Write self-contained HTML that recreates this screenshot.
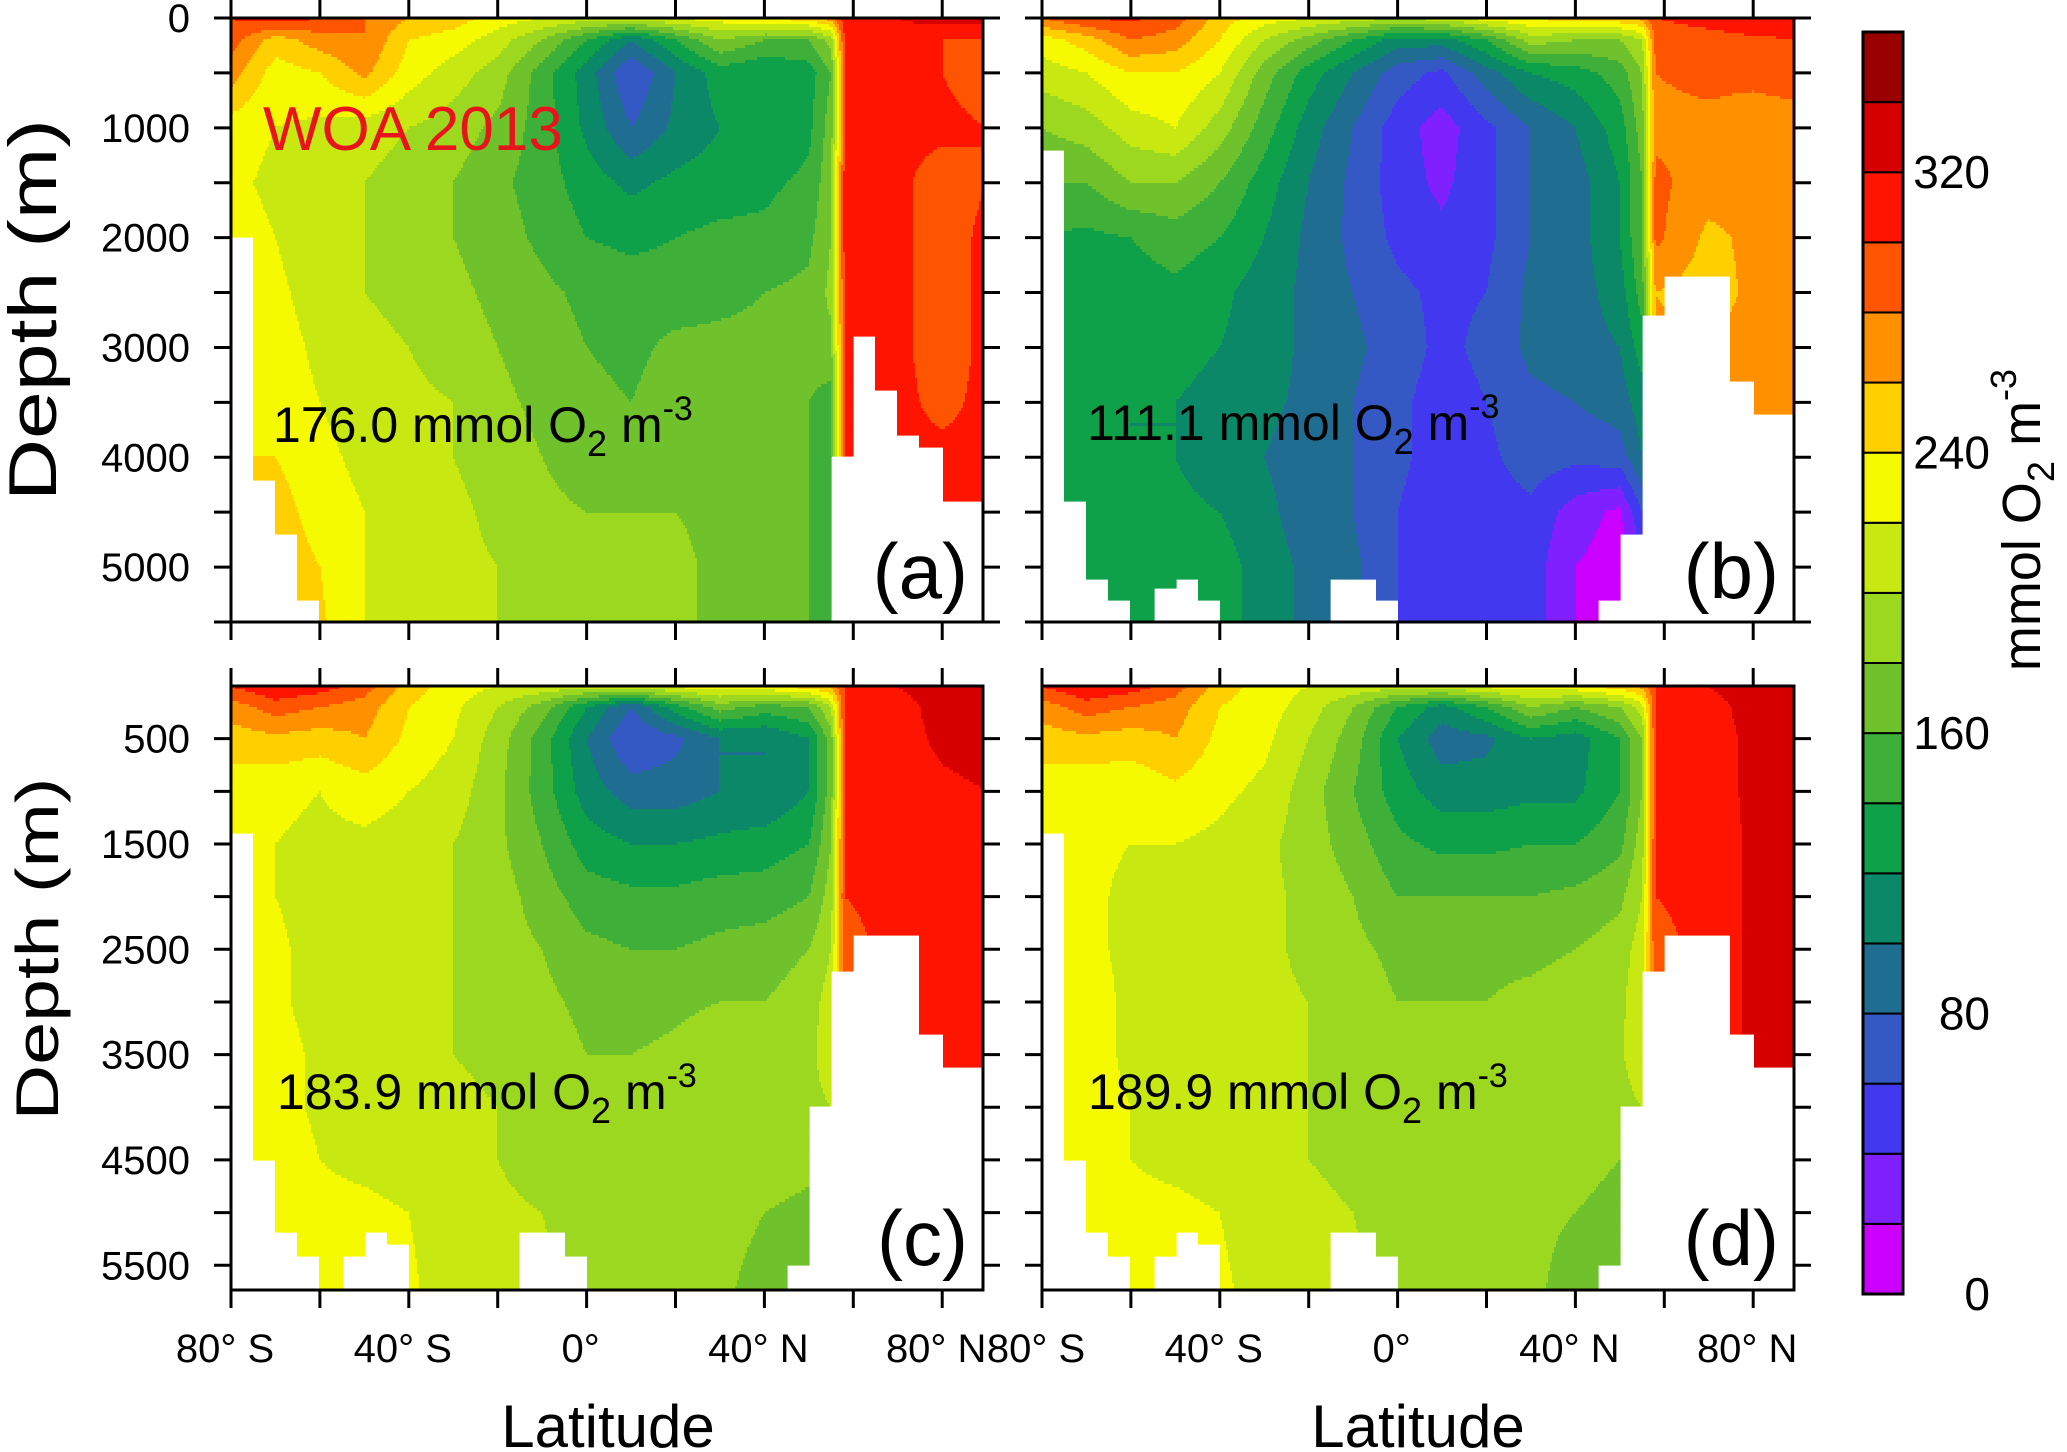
<!DOCTYPE html>
<html><head><meta charset="utf-8"><style>
html,body{margin:0;padding:0;background:#fff;}
svg{display:block;font-family:"Liberation Sans",sans-serif;}
</style></head><body>
<svg id="fig" width="2067" height="1452" viewBox="0 0 2067 1452" xmlns="http://www.w3.org/2000/svg">
<g id="fills"></g>
<g id="axes"></g>
<g>
<text x="263" y="150" font-size="62" fill="#e8141c">WOA 2013</text>
<text x="273" y="442" font-size="50" fill="#000">176.0 mmol O<tspan dy="14" font-size="36">2</tspan><tspan dy="-14"> m</tspan><tspan dy="-22" font-size="34">-3</tspan></text>
<text x="1087" y="440" font-size="50" fill="#000">111.1 mmol O<tspan dy="14" font-size="36">2</tspan><tspan dy="-14"> m</tspan><tspan dy="-22" font-size="34">-3</tspan></text>
<text x="277" y="1109" font-size="50" fill="#000">183.9 mmol O<tspan dy="14" font-size="36">2</tspan><tspan dy="-14"> m</tspan><tspan dy="-22" font-size="34">-3</tspan></text>
<text x="1088" y="1109" font-size="50" fill="#000">189.9 mmol O<tspan dy="14" font-size="36">2</tspan><tspan dy="-14"> m</tspan><tspan dy="-22" font-size="34">-3</tspan></text>
<text x="968" y="598" font-size="78" text-anchor="end">(a)</text>
<text x="1779" y="598" font-size="78" text-anchor="end">(b)</text>
<text x="968" y="1265" font-size="78" text-anchor="end">(c)</text>
<text x="1779" y="1265" font-size="78" text-anchor="end">(d)</text>
<text transform="translate(56,310) rotate(-90)" font-size="68" text-anchor="middle" textLength="382" lengthAdjust="spacingAndGlyphs">Depth (m)</text>
<text transform="translate(58,949) rotate(-90)" font-size="60" text-anchor="middle" textLength="343" lengthAdjust="spacingAndGlyphs">Depth (m)</text>
<text x="608" y="1447" font-size="60" text-anchor="middle">Latitude</text>
<text x="1418" y="1447" font-size="60" text-anchor="middle">Latitude</text>
<text transform="translate(2040,520) rotate(-90)" font-size="54" text-anchor="middle">mmol O<tspan dy="14" font-size="38">2</tspan><tspan dy="-14"> m</tspan><tspan dy="-24" font-size="36">-3</tspan></text>
</g>
<g id="cbar"></g>
</svg>
<script>
const NS = "http://www.w3.org/2000/svg";
const palette = ['#cc00ff','#8020ff','#4238f0','#3458c4','#1f6e92','#0a8868','#0fa04a','#3eb03a','#70c22c','#9dd820','#c8e812','#f5fa00','#ffcf00','#ff9100','#ff5500','#ff1400','#d60000','#990000'];
const colorbarTicks = [0, 80, 160, 240, 320];
const latNodes = [-80,-70,-60,-50,-40,-30,-20,-10,0,10,20,30,40,50,55,58,70,80,90];
const depthNodes = [0,200,500,1000,1500,2000,2500,3000,3500,4000,4500,5000,5750];
const xTickLabels = ['80° S','40° S','0°','40° N','80° N'];
const xTickLabelLats = [-80,-40,0,40,80];

const valuesA = [
[300,310,300,280,260,250,230,220,210,210,220,230,240,250,270,310,320,330,330],
[290,250,270,280,240,230,210,180,140,100,140,180,160,160,190,300,310,300,300],
[270,230,240,265,230,210,190,150,110,60,100,130,120,130,160,300,310,300,290],
[230,220,215,210,200,190,175,150,115,80,105,120,120,135,170,300,305,305,300],
[225,215,205,200,190,180,165,150,130,115,125,130,135,145,175,305,305,290,300],
[230,220,205,200,190,180,170,155,140,135,140,145,145,155,180,305,305,290,305],
[235,225,210,200,195,185,175,165,155,150,150,155,160,165,185,300,305,290,305],
[240,230,215,205,200,190,180,170,160,155,165,165,165,170,175,300,305,290,305],
[240,232,220,210,205,200,185,175,165,160,170,165,170,160,150,300,305,295,305],
[240,240,225,215,210,200,190,180,170,165,175,175,170,160,150,300,305,305,305],
[250,250,230,220,210,205,195,185,180,180,180,175,170,160,150,300,300,305,305],
[260,255,240,220,210,205,200,195,190,185,185,175,170,160,150,300,300,300,300],
[260,260,245,220,210,205,200,195,190,185,185,175,170,160,150,300,300,300,300]];
const valuesB = [
[280,300,305,290,250,230,220,210,200,210,230,240,250,255,265,300,310,320,320],
[230,250,280,270,240,200,170,140,110,110,140,190,180,180,200,285,290,295,300],
[210,220,240,240,220,170,130,100,70,55,90,120,130,150,180,280,285,285,290],
[180,190,210,220,190,150,110,80,50,30,55,80,100,130,170,275,275,270,270],
[160,160,180,180,160,130,100,75,50,35,55,80,90,120,160,285,270,270,270],
[140,135,140,150,140,120,95,75,55,45,55,80,90,120,160,285,255,265,265],
[140,130,130,135,125,110,95,80,65,55,60,85,90,110,150,260,250,265,265],
[140,130,125,125,120,110,95,85,70,55,65,85,90,100,130,265,265,265,265],
[140,130,120,120,115,105,95,80,65,50,60,75,80,90,110,265,265,265,265],
[145,130,120,120,110,100,90,80,65,50,55,70,65,70,100,265,265,265,265],
[145,135,120,125,120,105,90,80,60,45,50,55,30,15,60,265,265,265,265],
[150,140,120,125,130,110,95,85,60,40,45,50,20,10,30,265,265,265,265],
[150,140,120,125,130,110,95,85,60,40,45,50,20,10,30,265,265,265,265]];
const valuesC = [
[300,320,310,290,250,230,220,215,210,215,225,230,235,250,265,300,320,335,340],
[270,290,280,270,240,225,200,170,120,80,130,170,150,160,200,300,310,330,335],
[250,255,250,260,235,220,190,150,100,60,75,100,100,120,170,300,310,325,330],
[230,225,220,230,220,210,185,150,110,90,90,100,100,120,170,300,310,315,320],
[230,220,215,215,210,200,185,160,130,120,120,125,130,140,180,300,305,305,305],
[235,220,210,210,205,200,190,170,150,145,145,150,150,160,190,300,305,305,305],
[240,225,210,205,205,200,190,180,165,160,160,165,170,180,200,295,305,305,305],
[240,225,210,205,205,200,195,185,175,170,175,180,180,190,210,295,305,305,305],
[240,230,215,210,205,200,195,190,180,180,185,195,195,190,220,295,305,305,305],
[240,230,215,210,210,205,200,190,185,185,190,195,200,190,200,295,305,305,305],
[240,235,220,215,210,205,200,190,190,190,190,195,190,185,190,295,305,305,305],
[245,240,225,225,220,205,205,200,190,190,190,190,180,175,180,295,305,305,305],
[245,240,225,230,225,205,210,205,190,195,190,185,170,165,170,295,305,305,305]];
const valuesD = [
[300,320,310,290,250,230,220,215,210,215,225,230,235,250,265,300,320,335,340],
[270,290,280,270,240,230,210,180,140,110,140,180,160,180,210,300,310,330,335],
[250,255,250,260,235,225,200,170,120,90,95,120,110,140,180,300,310,325,330],
[230,225,225,235,225,215,190,160,130,110,110,115,115,140,180,300,310,325,325],
[230,225,220,220,215,205,190,170,145,135,135,140,140,155,190,300,305,325,325],
[235,225,215,215,210,205,195,180,160,160,160,160,165,175,200,300,305,325,325],
[240,225,215,210,210,205,195,185,175,175,175,175,180,190,210,295,305,325,325],
[240,230,215,210,210,205,200,190,180,180,180,185,190,195,215,295,305,325,325],
[240,230,215,210,210,205,200,195,185,185,185,190,195,195,220,295,305,325,325],
[240,230,220,215,210,205,200,195,190,190,190,195,195,190,200,295,305,325,325],
[240,235,220,215,210,205,200,195,190,190,190,190,185,180,190,295,305,325,325],
[245,240,225,225,220,205,205,200,190,195,190,185,180,175,180,295,305,325,325],
[245,240,225,230,225,210,210,205,190,195,190,185,170,165,170,295,305,325,325]];

// ocean floor depth (m) per 5-degree latitude bin starting at 80S
const floorA = [2000,4200,4700,5300,9999,9999,9999,9999,9999,9999,9999,9999,9999,9999,9999,9999,9999,9999,9999,9999,9999,9999,9999,9999,9999,9999,9999,4000,2900,3400,3800,3900,4400,4400];
const floorB = [1200,4400,5100,5300,9999,5200,5100,5300,9999,9999,9999,9999,9999,5100,5100,5300,9999,9999,9999,9999,9999,9999,9999,9999,9999,5300,4700,2700,2350,2350,2350,3300,3600,3600];
const floorC = [1400,4500,5190,5400,9999,5400,5190,5300,9999,9999,9999,9999,9999,5190,5190,5400,9999,9999,9999,9999,9999,9999,9999,9999,9999,5500,4000,2700,2370,2370,2370,3300,3630,3630];
const floorD = [1400,4500,5190,5400,9999,5400,5190,5300,9999,9999,9999,9999,9999,5190,5190,5400,9999,9999,9999,9999,9999,9999,9999,9999,9999,5500,4000,2700,2370,2370,2370,3300,3630,3630];

const panels = [
 {id:'a', x0:231, y0:18, w:752, h:604, dmax:5500, vals:valuesA, floor:floorA, yTicks:[0,1000,2000,3000,4000,5000], yLabels:true, xLabels:false},
 {id:'b', x0:1042, y0:18, w:752, h:604, dmax:5500, vals:valuesB, floor:floorB, yTicks:[], yLabels:false, xLabels:false},
 {id:'c', x0:231, y0:686, w:752, h:604, dmax:5735, vals:valuesC, floor:floorC, yTicks:[500,1500,2500,3500,4500,5500], yLabels:true, xLabels:true},
 {id:'d', x0:1042, y0:686, w:752, h:604, dmax:5735, vals:valuesD, floor:floorD, yTicks:[], yLabels:false, xLabels:true}
];
const PXDEG = 4.445;

function mk(tag, attrs, parent){
  const e = document.createElementNS(NS, tag);
  for (const k in attrs) e.setAttribute(k, attrs[k]);
  parent.appendChild(e);
  return e;
}
function bilin(vals, lat, d){
  let i = 0; while (i < latNodes.length-2 && lat > latNodes[i+1]) i++;
  let j = 0; while (j < depthNodes.length-2 && d > depthNodes[j+1]) j++;
  const tx = Math.min(1, Math.max(0, (lat-latNodes[i])/(latNodes[i+1]-latNodes[i])));
  const ty = Math.min(1, Math.max(0, (d-depthNodes[j])/(depthNodes[j+1]-depthNodes[j])));
  const a = vals[j][i], b = vals[j][i+1], c = vals[j+1][i], e = vals[j+1][i+1];
  return (a*(1-tx)+b*tx)*(1-ty) + (c*(1-tx)+e*tx)*ty;
}
const fills = document.getElementById('fills');
const axes = document.getElementById('axes');

panels.forEach(p => {
  const g = mk('g', {}, fills);
  
  
  const xOf = lat => p.x0 + (lat + 80) * PXDEG;
  const yOf = d => p.y0 + d / p.dmax * p.h;
  const SX = 2, SY = 3;
  for (let py = 0; py < p.h; py += SY) {
    const d = (py + SY/2) / p.h * p.dmax;
    let runStart = 0, runK = -2;
    const flush = (endPx) => {
      if (runK >= 0 && endPx > runStart) {
        const r = mk('rect', {x: p.x0 + runStart, y: p.y0 + py, width: endPx - runStart + 0.6, height: Math.min(SY, p.h - py) + 0.6, fill: palette[runK]}, g);
        
        
      }
    };
    for (let px = 0; px < p.w; px += SX) {
      const lat = -80 + (px + SX/2) / PXDEG;
      const bin = Math.min(p.floor.length - 1, Math.floor((lat + 80) / 5));
      let k;
      if (d > p.floor[bin]) k = -1;
      else { const v = bilin(p.vals, lat, d); k = Math.max(0, Math.min(17, Math.floor(v / 20))); }
      if (k !== runK) { flush(px); runStart = px; runK = k; }
    }
    flush(p.w);
  }
  const box = mk('rect', {x: p.x0, y: p.y0, width: p.w, height: p.h, fill: 'none', stroke: '#000', 'stroke-width': 3}, axes);
  
  
  for (let d = (p.dmax > 5600 ? 500 : 0); d <= 5500; d += 500) {
    const y = yOf(d);
    const t1 = mk('line', {x1: p.x0 - 17, x2: p.x0, y1: y, y2: y, stroke: '#000', 'stroke-width': 3}, axes);
    
    
    const t2 = mk('line', {x1: p.x0 + p.w, x2: p.x0 + p.w + 17, y1: y, y2: y, stroke: '#000', 'stroke-width': 3}, axes);
    
    
  }
  if (p.yLabels) p.yTicks.forEach(d => {
    const t = mk('text', {x: 190, y: yOf(d) + 14, 'font-size': 40, 'text-anchor': 'end'}, axes);
    t.textContent = String(d);
    
    
  });
  for (let lat = -80; lat <= 80; lat += 20) {
    const x = xOf(lat);
    const t1 = mk('line', {x1: x, x2: x, y1: p.y0 - 18, y2: p.y0, stroke: '#000', 'stroke-width': 3}, axes);
    
    
    const t2 = mk('line', {x1: x, x2: x, y1: p.y0 + p.h, y2: p.y0 + p.h + 18, stroke: '#000', 'stroke-width': 3}, axes);
    
    
  }
  if (p.xLabels) xTickLabels.forEach((s, i) => {
    const t = mk('text', {x: xOf(xTickLabelLats[i]) - 6, y: p.y0 + p.h + 72, 'font-size': 40, 'text-anchor': 'middle'}, axes);
    t.textContent = s;
    
    
  });
});

const cb = document.getElementById('cbar');
const cbX = 1863, cbW = 40, cbTop = 32, cbBot = 1294;
const binH = (cbBot - cbTop) / palette.length;
palette.forEach((c, k) => {
  const r = mk('rect', {x: cbX, y: cbBot - (k + 1) * binH, width: cbW, height: binH, fill: c, stroke: '#000', 'stroke-width': 2}, cb);
  
  
});
const cbFrame = mk('rect', {x: cbX, y: cbTop, width: cbW, height: cbBot - cbTop, fill: 'none', stroke: '#000', 'stroke-width': 3}, cb);


colorbarTicks.forEach(v => {
  const t = mk('text', {x: 1990, y: cbBot - v / 20 * binH + 16, 'font-size': 46, 'text-anchor': 'end'}, cb);
  t.textContent = String(v);
  
  
});
</script>
</body></html>
